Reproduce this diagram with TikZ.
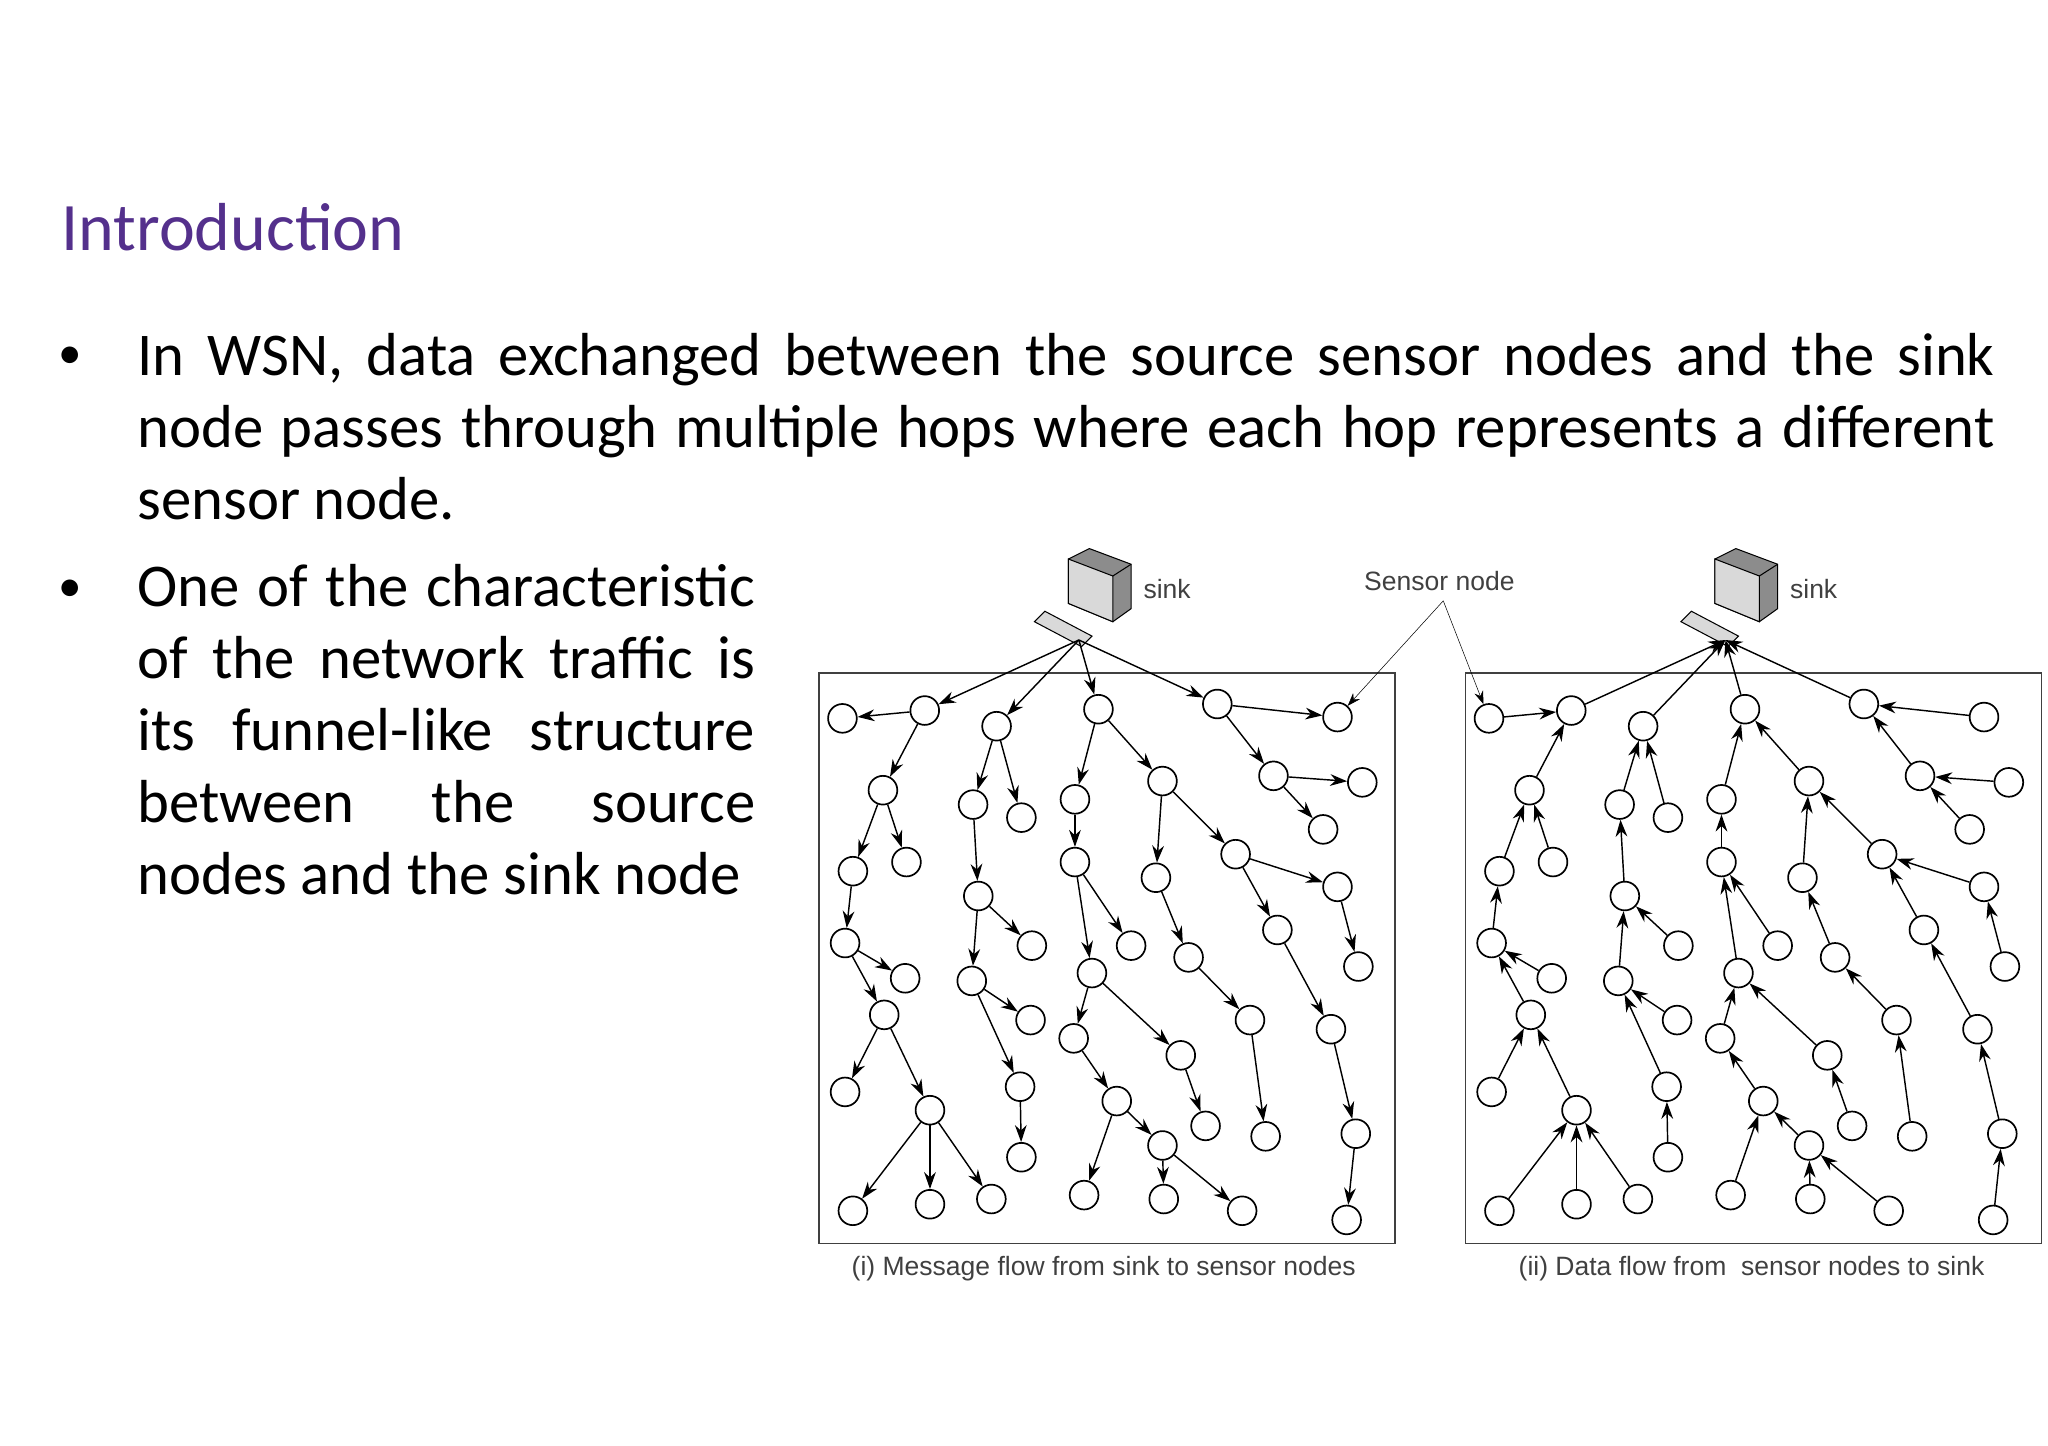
\documentclass[tikz,border=0pt]{standalone}
\usepackage{fontspec}
\setmainfont{Carlito}
\newfontfamily\capfont{Liberation Sans}
\usetikzlibrary{arrows.meta,positioning}
\definecolor{titlePurple}{rgb}{0.33 0.19 0.55}
\hyphenpenalty=10000
\exhyphenpenalty=10000

\begin{document}
\begin{tikzpicture}[x=1pt,y=-1pt,
  sensor/.style={circle,draw,line width=1.3pt,minimum size=22pt,inner sep=0pt,fill=white},
  hop/.style={-{Stealth[length=13pt,width=9pt]},line width=1.1pt},
  caption/.style={font=\capfont\fontsize{20.3}{24}\selectfont,text=black!75},
  bodytext/.style={font=\fontsize{46.5}{55}\selectfont,anchor=north west,align=justify,inner sep=0pt}]
\useasboundingbox (0,0) rectangle (1568,1107);

% slide text
\node[anchor=base west,inner sep=0pt,text=titlePurple,font=\fontsize{52}{60}\selectfont] (title) at (47,192) {Introduction};
\node[inner sep=0pt,font=\fontsize{36}{55}\selectfont] (bul1) at (54,274) {\textbullet};
\node[bodytext,text width=1422pt] (txt1) at (105,255) {In WSN, data exchanged between the source sensor nodes and the sink\linebreak node passes through multiple hops where each hop represents a different\linebreak sensor node.};
\node[inner sep=0pt,font=\fontsize{36}{55}\selectfont] (bul2) at (54,452) {\textbullet};
\node[bodytext,text width=473pt] (txt2) at (105,432) {One of the characteristic of the network traffic is its funnel-like structure between the source nodes and the sink node};

\def\sensors{a1/645/550, a2/708/544, a3/676/605, a4/653/667, a5/694/660,
a6/647/722, a7/693/749, a8/677/777, a9/647/836, a10/712/850, a11/653/927,
a12/712/922, a13/759/918, b1/763/556, b2/745/616, b3/782/626, b4/749/686,
b5/790/724, b6/744/751, b7/789/781, b8/781/832, b9/782/886, c1/841/543,
c2/823/612, c3/890/598, c4/823/660, c5/866/724, c6/836/745, c7/822/795,
c9/855/843, c10/830/915, c11/890/877, c12/891/918, c13/951/927, c14/904/808,
c15/923/862, c16/885/672, c17/946/654, c18/910/733, c19/957/781, c20/969/870,
c21/1024/679, c22/978/712, c23/1019/788, c24/1038/868, c25/1031/934,
c26/1040/740, d1/932/539, d2/1024/549, d3/975/594, d4/1043/599, d5/1013/635}

\def\links{s/a2, a2/a1, s/b1, s/c1, s/d1, d1/d2, a2/a3, a3/a4, a3/a5, a4/a6,
a6/a7, a6/a8, a8/a9, a8/a10, a10/a11, a10/a12, a10/a13, b1/b2, b1/b3, b2/b4,
b4/b5, b4/b6, b6/b7, b6/b8, b8/b9, c1/c2, c1/c3, c2/c4, c4/c5, c4/c6, c6/c7,
c6/c14, c14/c15, c7/c9, c9/c10, c9/c11, c11/c12, c11/c13, c3/c16, c3/c17,
c16/c18, c18/c19, c19/c20, c17/c21, c17/c22, c22/c23, c23/c24, c24/c25,
d1/d3, d3/d4, d3/d5, c21/c26}

% the two panels: L = sink to sensors, R = sensors to sink
\foreach \p/\dx in {L/0,R/495}
{
  \draw[line width=1.4pt,black!75] (627+\dx,515) rectangle (1068+\dx,952);
  % computer icon
  \filldraw[thick,fill=black!45] (818+\dx,428) -- (834+\dx,420) -- (866+\dx,432) -- (866+\dx,466) -- (852+\dx,476) -- (818+\dx,462) -- cycle;
  \filldraw[thick,fill=black!15] (818+\dx,428) -- (852+\dx,441) -- (852+\dx,476) -- (818+\dx,462) -- cycle;
  \draw[thick] (852+\dx,441) -- (866+\dx,432);
  \filldraw[thick,fill=black!15] (792+\dx,476) -- (800+\dx,468) -- (836+\dx,487) -- (828+\dx,495) -- cycle;
  \coordinate (\p-s) at (826+\dx,490);
  \node[anchor=west,font=\capfont\fontsize{20.3}{24}\selectfont,text=black!75] (\p-sinklabel) at (872+\dx,451) {sink};
  \foreach \n/\x/\y in \sensors
    \node[sensor] (\p-\n) at (\x+\dx,\y) {};
}
\foreach \u/\v in \links
{
  \draw[hop] (L-\u) -- (L-\v);
  \draw[hop] (R-\v) -- (R-\u);
}

% label of a sensor node
\node[font=\capfont\fontsize{20.3}{24}\selectfont,text=black!75] (sensorlabel) at (1102,445) {Sensor node};
\coordinate (fork) at (1105,460);
\draw[-{Stealth[length=10pt,width=7pt]},thin] (fork) -- (L-d2);
\draw[-{Stealth[length=10pt,width=7pt]},thin] (fork) -- (R-a1);

\node[caption] (capL) at (845,971) {(i) Message flow from sink to sensor nodes};
\node[caption] (capR) at (1341,971) {(ii) Data flow from\ \ sensor nodes to sink};
\end{tikzpicture}
\end{document}
